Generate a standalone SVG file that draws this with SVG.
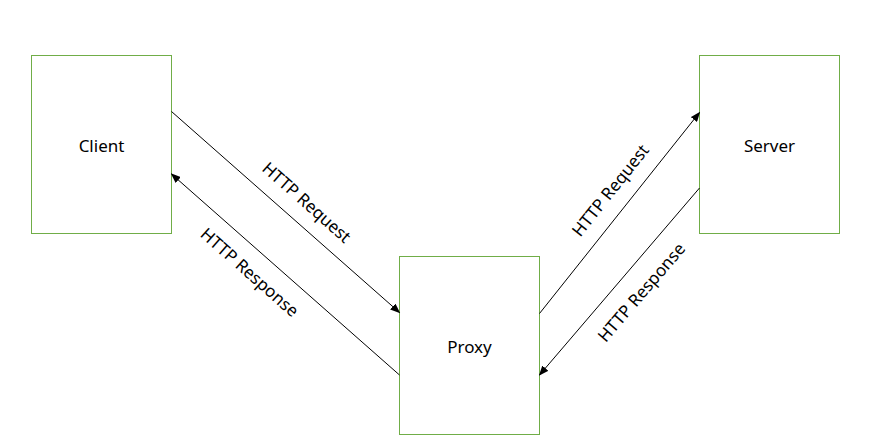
<svg xmlns="http://www.w3.org/2000/svg" width="895" height="444" viewBox="0 0 895 444">
<style>
.box{fill:#fff;stroke:#70AD47;stroke-width:1}
.lbl{font-family:"Noto Sans","Open Sans",sans-serif;font-size:17px;fill:#000;text-anchor:middle;dominant-baseline:central}
.edge{stroke:#000;stroke-width:1;fill:none;marker-end:url(#arr)}
</style>
<defs>
<marker id="arr" markerWidth="10" markerHeight="8" refX="9" refY="4" orient="auto" markerUnits="userSpaceOnUse">
<path d="M0,0 L10,4 L0,8 Z" fill="#000"/>
</marker>
</defs>
<rect width="895" height="444" fill="#fff"/>
<g id="client"><rect class="box" x="31.5" y="55.5" width="140" height="178"/><text class="lbl" x="101.5" y="145">Client</text></g>
<g id="proxy"><rect class="box" x="399.5" y="256.5" width="140" height="178"/><text class="lbl" x="469.5" y="346">Proxy</text></g>
<g id="server"><rect class="box" x="699.5" y="55.5" width="140" height="178"/><text class="lbl" x="769.5" y="145">Server</text></g>
<g id="connectors">
<line class="edge" x1="171.5" y1="111.5" x2="399.5" y2="312.5"/>
<line class="edge" x1="399.5" y1="375" x2="171.5" y2="174"/>
<line class="edge" x1="539.5" y1="313.5" x2="699.5" y2="112.5"/>
<line class="edge" x1="699.5" y1="188" x2="539.5" y2="375"/>
<text class="lbl" transform="translate(307,202) rotate(41.5)">HTTP Request</text>
<text class="lbl" transform="translate(250,272) rotate(41.5)">HTTP Response</text>
<text class="lbl" transform="translate(610,190) rotate(-51.5)">HTTP Request</text>
<text class="lbl" transform="translate(641,292) rotate(-49.4)">HTTP Response</text>
</g>
</svg>
